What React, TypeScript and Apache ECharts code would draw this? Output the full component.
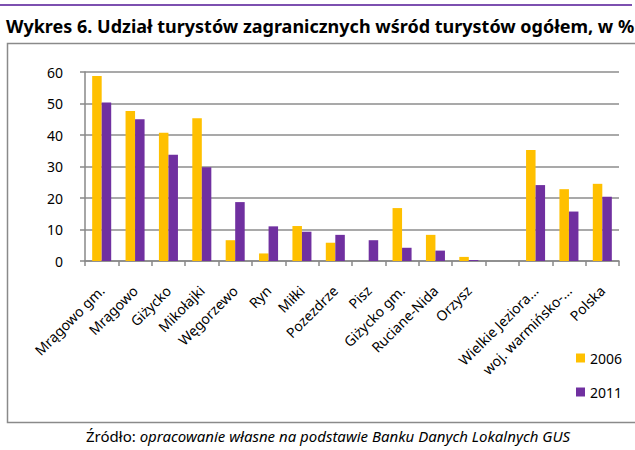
import React, { useEffect, useRef } from "react";
import * as echarts from "echarts";

const categories = [
  "Mrągowo gm.",
  "Mrągowo",
  "Giżycko",
  "Mikołajki",
  "Węgorzewo",
  "Ryn",
  "Miłki",
  "Pozezdrze",
  "Pisz",
  "Giżycko gm.",
  "Ruciane-Nida",
  "Orzysz",
  "",
  "Wielkie Jeziora...",
  "woj. warmińsko-...",
  "Polska",
];

const values2006 = [58.7, 47.6, 40.7, 45.3, 6.6, 2.4, 11.1, 5.8, 0, 16.8, 8.3, 1.3, null, 35.2, 22.8, 24.5];
const values2011 = [50.3, 45.0, 33.7, 29.8, 18.7, 11.0, 9.3, 8.3, 6.6, 4.2, 3.3, 0.3, null, 24.1, 15.7, 20.4];

const seriesNames = ["2006", "2011"];
const yTicks = { min: 0, max: 60, interval: 10 };

const titleText = "Wykres 6. Udział turystów zagranicznych wśród turystów ogółem, w %";
const sourceLabel = "Źródło: ";
const sourceText = "opracowanie własne na podstawie Banku Danych Lokalnych GUS";

const FONT = "'Noto Sans', 'DejaVu Sans', sans-serif";

export default function App() {
  const ref = useRef<HTMLDivElement>(null);

  useEffect(() => {
    if (!ref.current) return;
    const chart = echarts.init(ref.current, null, { renderer: "svg" });
    chart.setOption({
      animation: false,
      backgroundColor: "#ffffff",
      textStyle: { fontFamily: FONT },
      grid: { left: 85, right: 16, top: 72, bottom: 189, containLabel: false },
      legend: {
        orient: "vertical",
        left: 571,
        top: 346,
        itemWidth: 9,
        itemHeight: 9,
        itemGap: 20,
        icon: "rect",
        data: seriesNames,
        textStyle: { fontFamily: FONT, fontSize: 14, color: "#000" },
      },
      xAxis: {
        type: "category",
        data: categories,
        axisLine: { lineStyle: { color: "#888888", width: 1.5 } },
        axisTick: { show: true, length: 5, lineStyle: { color: "#888888", width: 1.5 } },
        axisLabel: {
          interval: 0,
          rotate: 45,
          margin: 27,
          fontFamily: FONT,
          fontSize: 14,
          color: "#000",
        },
      },
      yAxis: {
        type: "value",
        min: yTicks.min,
        max: yTicks.max,
        interval: yTicks.interval,
        axisLine: { show: true, lineStyle: { color: "#888888", width: 1.5 } },
        axisTick: { show: true, length: 5, lineStyle: { color: "#888888", width: 1.5 } },
        axisLabel: { margin: 22, fontFamily: FONT, fontSize: 14, color: "#000" },
        splitLine: { lineStyle: { color: "#8c8c8c", width: 1.5 } },
      },
      series: [
        {
          name: seriesNames[0],
          type: "bar",
          data: values2006,
          barGap: "0%",
          barCategoryGap: "43%",
          itemStyle: { color: "#FFC000" },
        },
        {
          name: seriesNames[1],
          type: "bar",
          data: values2011,
          barGap: "0%",
          barCategoryGap: "43%",
          itemStyle: { color: "#7030A0" },
        },
      ],
      graphic: [
        {
          type: "line",
          shape: { x1: 0, y1: 5, x2: 632, y2: 5 },
          style: { stroke: "#7d50b0", lineWidth: 2 },
          silent: true,
        },
        {
          type: "rect",
          shape: { x: 7.5, y: 43.5, width: 640, height: 379 },
          style: { fill: "none", stroke: "#8a8a8a", lineWidth: 1.5 },
          silent: true,
        },
        {
          type: "text",
          left: 6,
          top: 17,
          style: {
            text: titleText,
            fontFamily: FONT,
            fontWeight: "bold",
            fontSize: 18,
            fill: "#000",
          },
        },
        {
          type: "text",
          left: 86,
          top: 428,
          style: {
            text: "{n|" + sourceLabel + "}{i|" + sourceText + "}",
            rich: {
              n: { fontFamily: FONT, fontSize: 15, fill: "#000" },
              i: { fontFamily: FONT, fontSize: 15, fontStyle: "italic", fill: "#000" },
            },
          },
        },
      ],
    });
    return () => chart.dispose();
  }, []);

  return (
    <div
      ref={ref}
      style={{ position: "absolute", left: 0, top: 0, width: 635, height: 450 }}
    />
  );
}
